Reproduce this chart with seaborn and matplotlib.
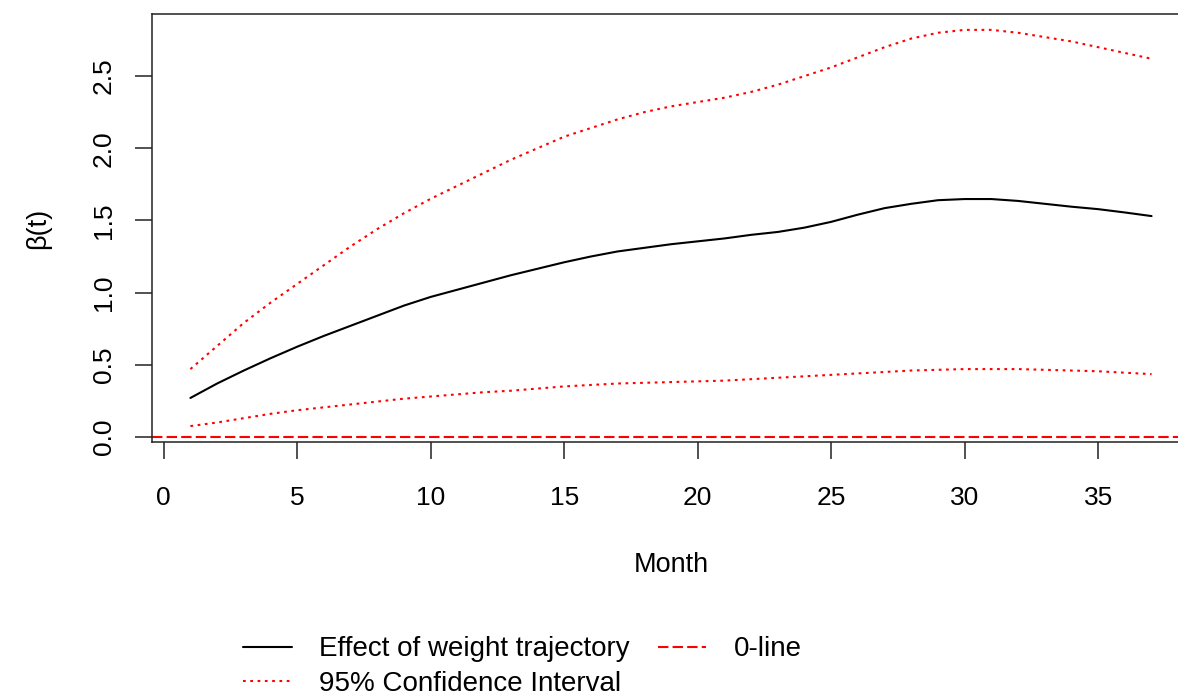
import pandas as pd
import seaborn as sns
import matplotlib.pyplot as plt

# values
months = list(range(1, 38))
effect = [0.27, 0.37, 0.46, 0.545, 0.625, 0.70, 0.77, 0.84, 0.91, 0.97,
          1.02, 1.07, 1.12, 1.165, 1.21, 1.25, 1.285, 1.31, 1.335, 1.355,
          1.375, 1.40, 1.42, 1.45, 1.49, 1.54, 1.585, 1.615, 1.64, 1.648,
          1.648, 1.635, 1.615, 1.595, 1.578, 1.555, 1.53]
ci_upper = [0.47, 0.63, 0.79, 0.93, 1.06, 1.19, 1.32, 1.44, 1.55, 1.65,
            1.74, 1.83, 1.92, 2.00, 2.08, 2.14, 2.20, 2.25, 2.29, 2.32,
            2.35, 2.39, 2.44, 2.50, 2.56, 2.63, 2.70, 2.76, 2.80, 2.82,
            2.82, 2.80, 2.77, 2.74, 2.70, 2.66, 2.62]
ci_lower = [0.075, 0.10, 0.13, 0.16, 0.185, 0.205, 0.225, 0.245, 0.265, 0.28,
            0.295, 0.31, 0.32, 0.335, 0.35, 0.36, 0.37, 0.375, 0.38, 0.385,
            0.39, 0.40, 0.41, 0.42, 0.43, 0.44, 0.45, 0.46, 0.465, 0.47,
            0.47, 0.47, 0.465, 0.46, 0.455, 0.445, 0.435]
zero_level = 0.0
y_ticks = [0.0, 0.5, 1.0, 1.5, 2.0, 2.5]
x_ticks = [0, 5, 10, 15, 20, 25, 30, 35]

sns.set_style("ticks")
plt.rcParams['font.family'] = ['Liberation Sans', 'DejaVu Sans']
plt.rcParams['text.color'] = 'black'
plt.rcParams['axes.labelcolor'] = 'black'

df = pd.DataFrame({"Month": months, "effect": effect,
                   "upper": ci_upper, "lower": ci_lower})

fig = plt.figure(figsize=(11.78, 7.0), dpi=100)
ax = fig.add_axes([0.129, 0.3686, 0.8812, 0.6114])

dotted = (0, (1.3, 2.2))
sns.lineplot(data=df, x="Month", y="effect", ax=ax, color="black",
             lw=1.5, legend=False)
sns.lineplot(data=df, x="Month", y="upper", ax=ax, color="red",
             lw=1.5, linestyle=dotted, legend=False)
sns.lineplot(data=df, x="Month", y="lower", ax=ax, color="red",
             lw=1.5, linestyle=dotted, legend=False)
zero = ax.axhline(zero_level, color="red", lw=1.5, linestyle=(0, (5, 2)))

ax.set_xlim(-0.44, 38.44)
ax.set_ylim(-0.035, 2.93)
ax.set_xticks(x_ticks)
ax.set_yticks(y_ticks)
ax.set_yticklabels(["%.1f" % v for v in y_ticks], rotation=90, va="center")

for side in ["left", "right", "top", "bottom"]:
    ax.spines[side].set_visible(True)
    ax.spines[side].set_color("#222222")
    ax.spines[side].set_linewidth(1.1)
ax.tick_params(length=12, width=1.1, color="#222222", labelsize=19,
               labelcolor="black")
ax.tick_params(axis="x", pad=20)
ax.tick_params(axis="y", pad=14)

ax.set_xlabel("Month", fontsize=19.5, va="center")
ax.xaxis.set_label_coords(0.5, -0.288)
ax.set_ylabel("β(t)", fontsize=19.5, va="center")
ax.yaxis.set_label_coords(-0.1098, 0.5)

lines = ax.get_lines()
handles = [lines[0], lines[1], zero]
labels = ["Effect of weight trajectory", "95% Confidence Interval", "0-line"]
fig.legend(handles, labels, loc="upper left", bbox_to_anchor=(0.2063, 0.091),
           ncol=2, frameon=False, fontsize=20, handlelength=1.75,
           handletextpad=1.0, columnspacing=1.0, labelspacing=0.3,
           borderaxespad=0, borderpad=0)

fig.savefig("out.png", dpi=100)
